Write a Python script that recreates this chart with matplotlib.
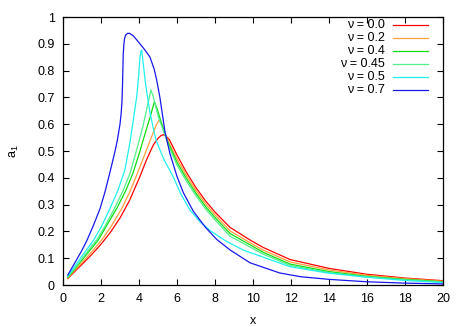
import numpy as np
import matplotlib
matplotlib.use('Agg')
import matplotlib.pyplot as plt

plt.rcParams['font.family'] = ['Liberation Sans', 'DejaVu Sans']
plt.rcParams['mathtext.fontset'] = 'custom'
plt.rcParams['mathtext.rm'] = 'Liberation Sans'
plt.rcParams['mathtext.it'] = 'Liberation Sans'

# curves, one (x, a1) list per nu
labels = ['\u03bd = 0.0', '\u03bd = 0.2', '\u03bd = 0.4', '\u03bd = 0.45', '\u03bd = 0.5', '\u03bd = 0.7']
colors = ['#ff0000', '#ff9f3a', '#10dd10', '#50f08a', '#20f0f0', '#1818ee']

x_00 = [0.25, 0.6, 1.0, 1.5, 2.0, 2.5, 3.0, 3.5, 4.05, 4.4, 4.75, 5.0, 5.15, 5.28, 5.4, 5.6,
        6.0, 6.5, 7.0, 7.5, 8.0, 8.79, 9.84, 10.54, 11.95, 14.0, 16.0, 18.0, 20.0]
y_00 = [0.024, 0.049, 0.077, 0.113, 0.152, 0.197, 0.25, 0.315, 0.405, 0.468, 0.522, 0.547, 0.557, 0.561, 0.557, 0.542,
        0.485, 0.42, 0.363, 0.314, 0.272, 0.215, 0.168, 0.14, 0.095, 0.062, 0.040, 0.026, 0.016]

x_02 = [0.25, 0.6, 1.0, 1.5, 2.04, 2.5, 3.09, 3.5, 3.85, 4.4, 4.7, 4.9, 5.07, 5.2, 5.46,
        6.0, 6.5, 7.0, 7.5, 8.0, 8.79, 9.84, 10.54, 11.95, 14.0, 16.0, 18.0, 20.0]
y_02 = [0.026, 0.053, 0.084, 0.123, 0.168, 0.215, 0.285, 0.345, 0.405, 0.505, 0.56, 0.595, 0.616, 0.602, 0.548,
        0.47, 0.408, 0.352, 0.303, 0.262, 0.202, 0.158, 0.13, 0.086, 0.056, 0.036, 0.024, 0.014]

x_04 = [0.25, 0.6, 1.0, 1.4, 1.86, 2.3, 2.86, 3.3, 3.67, 4.0, 4.3, 4.6, 4.81, 4.95, 5.2, 5.5,
        6.0, 6.5, 7.0, 7.5, 8.0, 8.79, 9.84, 10.54, 11.95, 14.0, 16.0, 18.0, 20.0]
y_04 = [0.028, 0.058, 0.093, 0.128, 0.168, 0.222, 0.29, 0.352, 0.415, 0.488, 0.56, 0.63, 0.684, 0.658, 0.6, 0.537,
        0.458, 0.397, 0.342, 0.293, 0.252, 0.192, 0.15, 0.122, 0.078, 0.05, 0.032, 0.021, 0.012]

x_045 = [0.25, 0.6, 1.0, 1.4, 1.77, 2.2, 2.74, 3.15, 3.53, 3.9, 4.2, 4.45, 4.63, 4.75, 5.0, 5.3, 5.6,
         6.0, 6.5, 7.0, 7.5, 8.0, 8.79, 9.84, 10.54, 11.95, 14.0, 16.0, 18.0, 20.0]
y_045 = [0.030, 0.061, 0.098, 0.135, 0.168, 0.218, 0.29, 0.35, 0.417, 0.51, 0.59, 0.67, 0.728, 0.703, 0.632, 0.572, 0.513,
         0.448, 0.387, 0.333, 0.284, 0.243, 0.182, 0.142, 0.115, 0.073, 0.046, 0.03, 0.019, 0.011]

x_05 = [0.25, 0.6, 1.0, 1.6, 2.0, 2.47, 2.9, 3.26, 3.53, 3.7, 3.88, 3.98, 4.05, 4.1, 4.14, 4.2, 4.32, 4.45,
        4.58, 4.75, 4.9, 5.3, 5.8, 6.2, 6.68, 7.2, 7.8, 8.6, 9.5, 10.54, 11.95, 14.0, 16.0, 18.0, 20.0]
y_05 = [0.033, 0.068, 0.108, 0.166, 0.215, 0.285, 0.355, 0.43, 0.535, 0.615, 0.703, 0.78, 0.85, 0.872, 0.877, 0.84, 0.765, 0.70,
        0.643, 0.585, 0.54, 0.47, 0.404, 0.34, 0.28, 0.237, 0.2, 0.163, 0.13, 0.104, 0.068, 0.044, 0.029, 0.017, 0.009]

x_07 = [0.25, 0.6, 1.0, 1.25, 1.6, 1.95, 2.2, 2.47, 2.74, 2.86, 3.0, 3.06, 3.1, 3.13, 3.15, 3.17, 3.2, 3.24,
        3.3, 3.4, 3.5, 3.7, 4.05, 4.3, 4.58, 4.8, 4.93, 5.1, 5.37, 5.63, 6.0, 6.33, 6.86, 7.5, 8.09, 8.79, 9.84,
        11.4, 12.5, 14.0, 16.0, 18.0, 20.0]
y_07 = [0.037, 0.08, 0.13, 0.165, 0.222, 0.285, 0.345, 0.42, 0.5, 0.54, 0.60, 0.64, 0.68, 0.74, 0.80, 0.86, 0.895, 0.92,
        0.933, 0.939, 0.939, 0.93, 0.90, 0.878, 0.85, 0.805, 0.765, 0.70, 0.57, 0.49, 0.405, 0.345, 0.275, 0.215, 0.17, 0.131, 0.083,
        0.045, 0.031, 0.021, 0.012, 0.007, 0.004]

curves = [(x_00, y_00), (x_02, y_02), (x_04, y_04), (x_045, y_045), (x_05, y_05), (x_07, y_07)]

fig = plt.figure(figsize=[4.67, 3.27], dpi=100)
ax = fig.add_axes([63/467, 42/327, 380/467, 268/327])

for (xs, ys), c in zip(curves, colors):
     ax.plot(xs, ys, c=c, lw=0.9)

ax.set_xlim(0, 20)
ax.set_ylim(0, 1)
ax.set_xticks(np.arange(0, 21, 2))
ax.set_yticks(np.arange(0, 1.01, 0.1))
ax.set_yticklabels(['0', '0.1', '0.2', '0.3', '0.4', '0.5', '0.6', '0.7', '0.8', '0.9', '1'])
ax.tick_params(direction='in', length=4, width=0.8, top=True, right=True, labelsize=9, pad=6)
for s in ax.spines.values():
     s.set_linewidth(0.9)
ax.set_xlabel('x', fontsize=9, labelpad=7)
ax.set_ylabel('a$_1$', fontsize=9, labelpad=12)

# gnuplot style key: right aligned text, sample line on the right
for i, (lab, c) in enumerate(zip(labels, colors)):
     yk = 1 - (25 + 13*i - 17)/268
     ax.text((385 - 63)/380, yk, lab, ha='right', va='center', fontsize=9, transform=ax.transAxes)
     ax.plot([(393 - 63)/380, (428 - 63)/380], [yk, yk], c=c, lw=0.9, transform=ax.transAxes)

plt.savefig('out.png', dpi=100)
